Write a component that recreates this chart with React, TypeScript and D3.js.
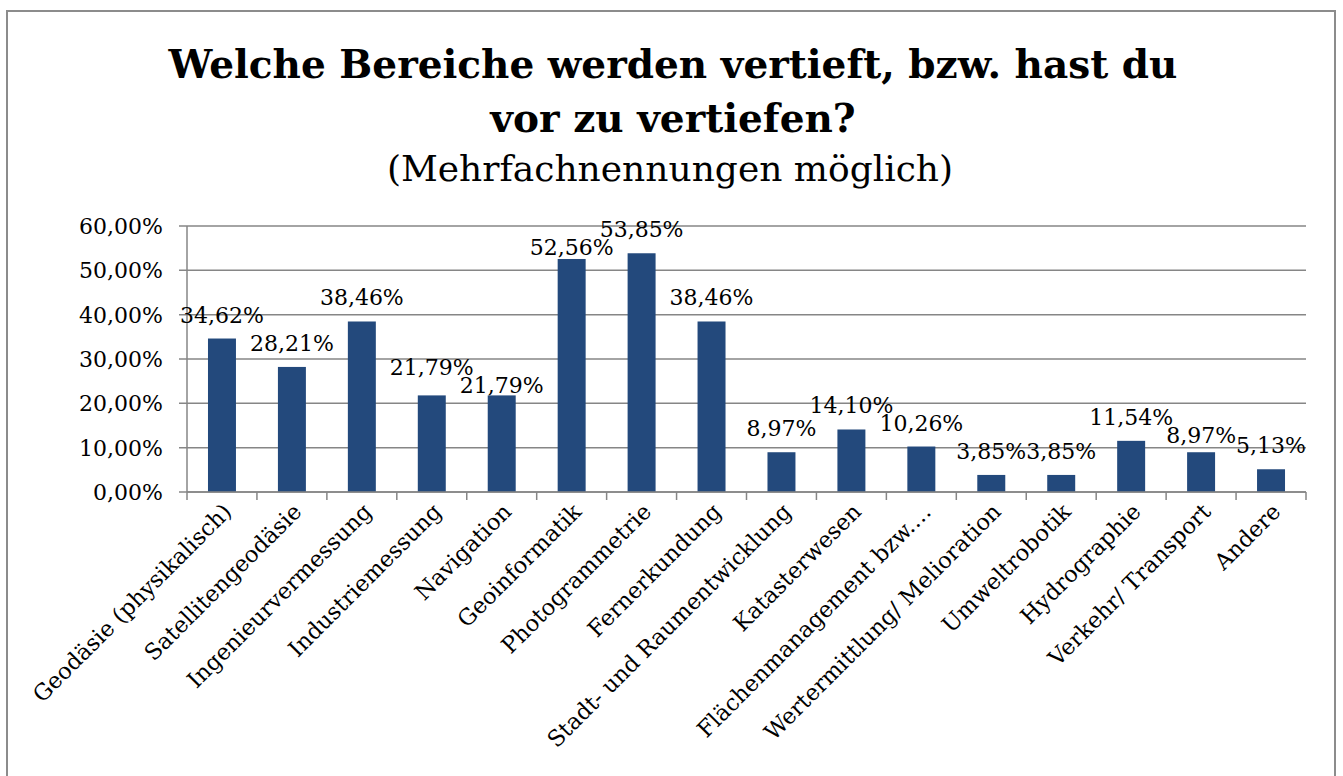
import React, { useEffect, useRef } from "react";
import * as d3 from "d3";

const categories = [
  "Geodäsie (physikalisch)",
  "Satellitengeodäsie",
  "Ingenieurvermessung",
  "Industriemessung",
  "Navigation",
  "Geoinformatik",
  "Photogrammetrie",
  "Fernerkundung",
  "Stadt- und Raumentwicklung",
  "Katasterwesen",
  "Flächenmanagement bzw.…",
  "Wertermittlung/ Melioration",
  "Umweltrobotik",
  "Hydrographie",
  "Verkehr/ Transport",
  "Andere",
];
const values = [
  34.62, 28.21, 38.46, 21.79, 21.79, 52.56, 53.85, 38.46, 8.97, 14.1, 10.26,
  3.85, 3.85, 11.54, 8.97, 5.13,
];
const yTicks = [0, 10, 20, 30, 40, 50, 60];
const titleLines = ["Welche Bereiche werden vertieft, bzw. hast du", "vor zu vertiefen?"];
const subtitle = "(Mehrfachnennungen möglich)";

const fmt = (v: number) => v.toFixed(2).replace(".", ",") + "%";

const App = () => {
  const svgRef = useRef<SVGSVGElement>(null);

  useEffect(() => {
    const W = 1343;
    const H = 776;
    const margin = { top: 226, right: 37, bottom: 284, left: 187 };
    const width = W - margin.left - margin.right;
    const height = H - margin.top - margin.bottom;
    const font = "'DejaVu Serif', serif";

    const svg = d3.select(svgRef.current).attr("width", W).attr("height", H);
    svg.selectAll("*").remove();

    // chart frame
    svg
      .append("rect")
      .attr("x", 7)
      .attr("y", 11)
      .attr("width", 1328)
      .attr("height", 800)
      .attr("fill", "white")
      .attr("stroke", "#8c8c8c")
      .attr("stroke-width", 2);

    // titles
    const title = svg
      .append("text")
      .attr("text-anchor", "middle")
      .attr("font-family", font)
      .attr("font-weight", "bold")
      .attr("font-size", 39)
      .attr("fill", "#000");
    titleLines.forEach((line, i) => {
      title
        .append("tspan")
        .attr("x", 673)
        .attr("y", 78 + i * 54)
        .text(line);
    });
    svg
      .append("text")
      .attr("x", 670)
      .attr("y", 181)
      .attr("text-anchor", "middle")
      .attr("font-family", font)
      .attr("font-size", 36)
      .text(subtitle);

    const g = svg
      .append("g")
      .attr("transform", `translate(${margin.left},${margin.top})`);

    const x = d3.scaleBand().domain(categories).range([0, width]).paddingInner(0.6).paddingOuter(0.3);
    const y = d3.scaleLinear().domain([0, 60]).range([height, 0]);
    const step = x.step();

    // gridlines + y ticks
    g.selectAll("line.grid")
      .data(yTicks)
      .enter()
      .append("line")
      .attr("x1", -8)
      .attr("x2", width)
      .attr("y1", (d) => y(d))
      .attr("y2", (d) => y(d))
      .attr("stroke", "#868686")
      .attr("stroke-width", 1.5);

    g.selectAll("text.ytick")
      .data(yTicks)
      .enter()
      .append("text")
      .attr("x", -24)
      .attr("y", (d) => y(d))
      .attr("dy", "0.36em")
      .attr("text-anchor", "end")
      .attr("font-family", font)
      .attr("font-size", 22)
      .text((d) => fmt(d));

    // bars
    g.selectAll("rect.bar")
      .data(values)
      .enter()
      .append("rect")
      .attr("x", (_, i) => x(categories[i])!)
      .attr("y", (d) => y(d))
      .attr("width", x.bandwidth())
      .attr("height", (d) => height - y(d))
      .attr("fill", "#23497c");

    // axes lines
    g.append("line")
      .attr("x1", 0)
      .attr("x2", 0)
      .attr("y1", 0)
      .attr("y2", height)
      .attr("stroke", "#868686")
      .attr("stroke-width", 1.5);
    g.append("line")
      .attr("x1", 0)
      .attr("x2", width)
      .attr("y1", height)
      .attr("y2", height)
      .attr("stroke", "#868686")
      .attr("stroke-width", 1.5);
    g.selectAll("line.xtick")
      .data(d3.range(categories.length + 1))
      .enter()
      .append("line")
      .attr("x1", (d) => d * step)
      .attr("x2", (d) => d * step)
      .attr("y1", height)
      .attr("y2", height + 8)
      .attr("stroke", "#868686")
      .attr("stroke-width", 1.5);

    // value labels; neighbours that collide get pushed apart vertically
    const labels = g
      .selectAll<SVGTextElement, number>("text.val")
      .data(values)
      .enter()
      .append("text")
      .attr("x", (_, i) => x(categories[i])! + x.bandwidth() / 2)
      .attr("text-anchor", "middle")
      .attr("font-family", font)
      .attr("font-size", 22)
      .text((d) => fmt(d));
    const widths = labels.nodes().map((n) => n.getComputedTextLength());
    const ys = values.map((v) => y(v) - 16);
    const boxH = 18;
    for (let pass = 0; pass < 3; pass++) {
      for (let i = 1; i < values.length; i++) {
        if (step >= (widths[i] + widths[i - 1]) / 2) continue;
        const dy = Math.abs(ys[i] - ys[i - 1]);
        if (dy >= boxH) continue;
        let need = boxH - dy;
        // lower label (on screen) moves down toward its bar, the other one up
        const lo = ys[i] >= ys[i - 1] ? i : i - 1;
        const hi = lo === i ? i - 1 : i;
        const room = Math.max(0, y(values[lo]) - 2 - ys[lo]);
        const down = Math.min(need, room);
        ys[lo] += down;
        need -= down;
        ys[hi] -= need;
      }
    }
    labels.attr("y", (_, i) => ys[i]);

    // category labels
    g.selectAll("text.cat")
      .data(categories)
      .enter()
      .append("text")
      .attr("transform", (d) => {
        const cx = x(d)! + x.bandwidth() / 2 + 11;
        return `translate(${cx},${height + 21}) rotate(-45)`;
      })
      .attr("text-anchor", "end")
      .attr("font-family", font)
      .attr("font-size", 22.5)
      .text((d) => d);
  }, []);

  return <svg ref={svgRef} style={{ display: "block", position: "absolute", left: 0, top: 0 }} />;
};

export default App;
